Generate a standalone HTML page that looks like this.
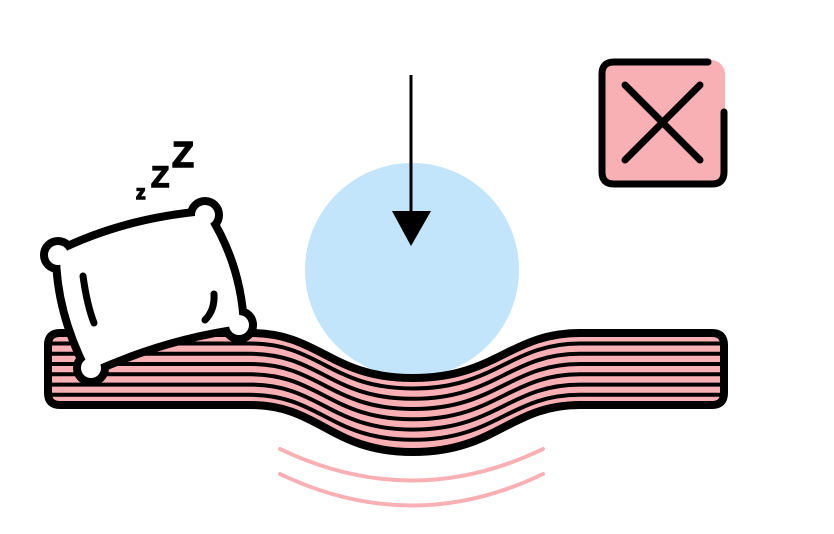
<!DOCTYPE html>
<html><head><meta charset="utf-8"><style>html,body{margin:0;padding:0;background:#fff}svg{display:block}</style></head>
<body>
<svg width="834" height="534" viewBox="0 0 834 534" xmlns="http://www.w3.org/2000/svg">
  <g fill="none" stroke="#f9b0b5" stroke-width="4" stroke-linecap="round">
    <path d="M280,449 Q412,512 543,449"/>
    <path d="M280,474 Q412,537 543,474"/>
  </g>
  <circle cx="412" cy="270" r="107" fill="#c2e5fb"/>
  <g>
    <path d="M60,333 L250,333 C320,333 330,378 413,378 C496,378 510,333 580,333 L712,333 Q724,333 724,345 L724,393 Q724,405 712,405 L580,405 C510,405 496,452 413,452 C330,452 320,405 250,405 L60,405 Q48,405 48,393 L48,345 Q48,333 60,333 Z" fill="#f9b0b5" stroke="#000" stroke-width="8" stroke-linejoin="round"/>
    <g fill="none" stroke="#000" stroke-width="4">
      <path d="M52,343.5 L250,343.5 C320,343.5 330,388.5 413,388.5 C496,388.5 510,343.5 580,343.5 L720,343.5"/>
      <path d="M52,353.8 L250,353.8 C320,353.8 330,398.8 413,398.8 C496,398.8 510,353.8 580,353.8 L720,353.8"/>
      <path d="M52,364 L250,364 C320,364 330,409 413,409 C496,409 510,364 580,364 L720,364"/>
      <path d="M52,374.3 L250,374.3 C320,374.3 330,419.3 413,419.3 C496,419.3 510,374.3 580,374.3 L720,374.3"/>
      <path d="M52,384.6 L250,384.6 C320,384.6 330,429.6 413,429.6 C496,429.6 510,384.6 580,384.6 L720,384.6"/>
      <path d="M52,394.8 L250,394.8 C320,394.8 330,439.8 413,439.8 C496,439.8 510,394.8 580,394.8 L720,394.8"/>
    </g>
  </g>
  <g>
    <line x1="411" y1="75" x2="411" y2="215" stroke="#000" stroke-width="3"/>
    <polygon points="392,211 431,211 411,246" fill="#000"/>
  </g>
  <g stroke-linecap="round" stroke-linejoin="round">
    <g stroke="#000" stroke-width="16" fill="#000">
      <path d="M60,254 Q125,222 205,215 Q237,265 240,325 Q165,335 90,369 Q60,310 60,254 Z"/>
      <circle cx="58" cy="255" r="10"/>
      <circle cx="205" cy="215" r="10"/>
      <circle cx="239" cy="325" r="10"/>
      <circle cx="91" cy="368" r="10"/>
    </g>
    <g fill="#fff" stroke="none">
      <path d="M60,254 Q125,222 205,215 Q237,265 240,325 Q165,335 90,369 Q60,310 60,254 Z"/>
      <circle cx="58" cy="255" r="10"/>
      <circle cx="205" cy="215" r="10"/>
      <circle cx="239" cy="325" r="10"/>
      <circle cx="91" cy="368" r="10"/>
    </g>
    <g stroke="#000" stroke-width="7" fill="none">
      <path d="M83,276 Q87,305 94,323"/>
      <path d="M214,294 Q215,310 205,320"/>
    </g>
  </g>
  <g font-family="Liberation Sans, sans-serif" font-weight="bold" fill="#000" stroke="#000" stroke-width="1.5">
    <text x="136" y="199" font-size="19">z</text>
    <text x="151" y="187" font-size="30">Z</text>
    <text x="172" y="167" font-size="36">Z</text>
  </g>
  <g>
    <rect x="600" y="60" width="125" height="125" rx="14" fill="#f9b0b5"/>
    <path d="M708,62 L614,62 Q602,62 602,74 L602,172 Q602,184 614,184 L712,184 Q724,184 724,172 L724,112" fill="none" stroke="#000" stroke-width="7" stroke-linecap="round"/>
    <g stroke="#000" stroke-width="7" stroke-linecap="round">
      <line x1="625" y1="85" x2="700" y2="160"/>
      <line x1="700" y1="85" x2="625" y2="160"/>
    </g>
  </g>
</svg>
</body></html>
